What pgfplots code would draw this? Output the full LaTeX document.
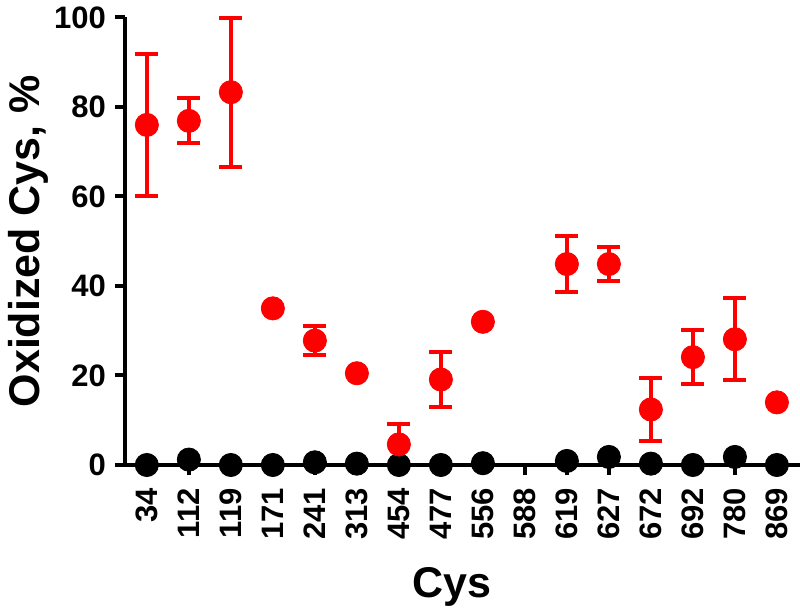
\documentclass[border=0pt]{standalone}
\usepackage{pgfplots}
\pgfplotsset{compat=1.18}
\usepackage{fontspec}
\setmainfont{Liberation Sans}
\definecolor{myred}{RGB}{255,0,0}
\begin{document}
\begin{tikzpicture}
\begin{axis}[
  scale only axis,
  width=337.5pt, height=223.75pt,
  xmin=-0.52, xmax=15.55,
  ymin=0, ymax=100,
  axis lines=left,
  axis line style={line width=2pt, -},
  clip=false,
  tick align=outside,
  major tick length=5pt,
  tick style={line width=2pt, black},
  xtick={0,...,15},
  xticklabels={34,112,119,171,241,313,454,477,556,588,619,627,672,692,780,869},
  ytick={0,20,40,60,80,100},
  /pgf/number format/assume math mode=true,
  ticklabel style={font=\bfseries\fontsize{15.5}{17}\selectfont},
  xticklabel style={rotate=90, anchor=east, xshift=-3pt},
  yticklabel style={xshift=-1pt},
  xlabel={Cys},
  ylabel={Oxidized Cys, \%},
  label style={font=\bfseries\fontsize{21.5}{25}\selectfont},
  xlabel style={at={(axis description cs:0.484,-0.297)}, anchor=base},
  ylabel style={at={(axis description cs:-0.143,0.5)}, anchor=center, rotate=0},
]
% black series
\addplot[only marks, mark=*, mark size=5.8pt, black] coordinates {
(0,0.0) (1,1.2) (2,0.0) (3,0.0) (4,0.6) (5,0.3) (6,0.0) (7,0.0) (8,0.4)
(10,0.9) (11,1.8) (12,0.3) (13,0.0) (14,1.8) (15,0.0)
};
% red with error bars
\addplot[only marks, mark=*, mark size=5.8pt, myred, mark options={fill=myred},
  error bars/.cd, y dir=both, y explicit,
  error bar style={line width=2pt, myred},
  error mark options={rotate=90, mark size=5.8pt, line width=2pt, myred}]
  table[x=x, y=y, y error=e] {
x y e
0 76.0 15.8
1 76.9 5.0
2 83.3 16.6
4 27.8 3.2
6 4.6 4.6
7 19.1 6.1
10 44.9 6.2
11 44.9 3.8
12 12.4 7.0
13 24.1 6.1
14 28.1 9.2
};
% red without error bars
\addplot[only marks, mark=*, mark size=5.8pt, myred, mark options={fill=myred}] coordinates {
(3,35.0) (5,20.5) (8,32.0) (15,14.0)
};
\end{axis}
\pgfresetboundingbox
\path[use as bounding box] (-62.5pt,-71.5pt) rectangle (337.5pt,232.5pt);
\end{tikzpicture}
\end{document}
